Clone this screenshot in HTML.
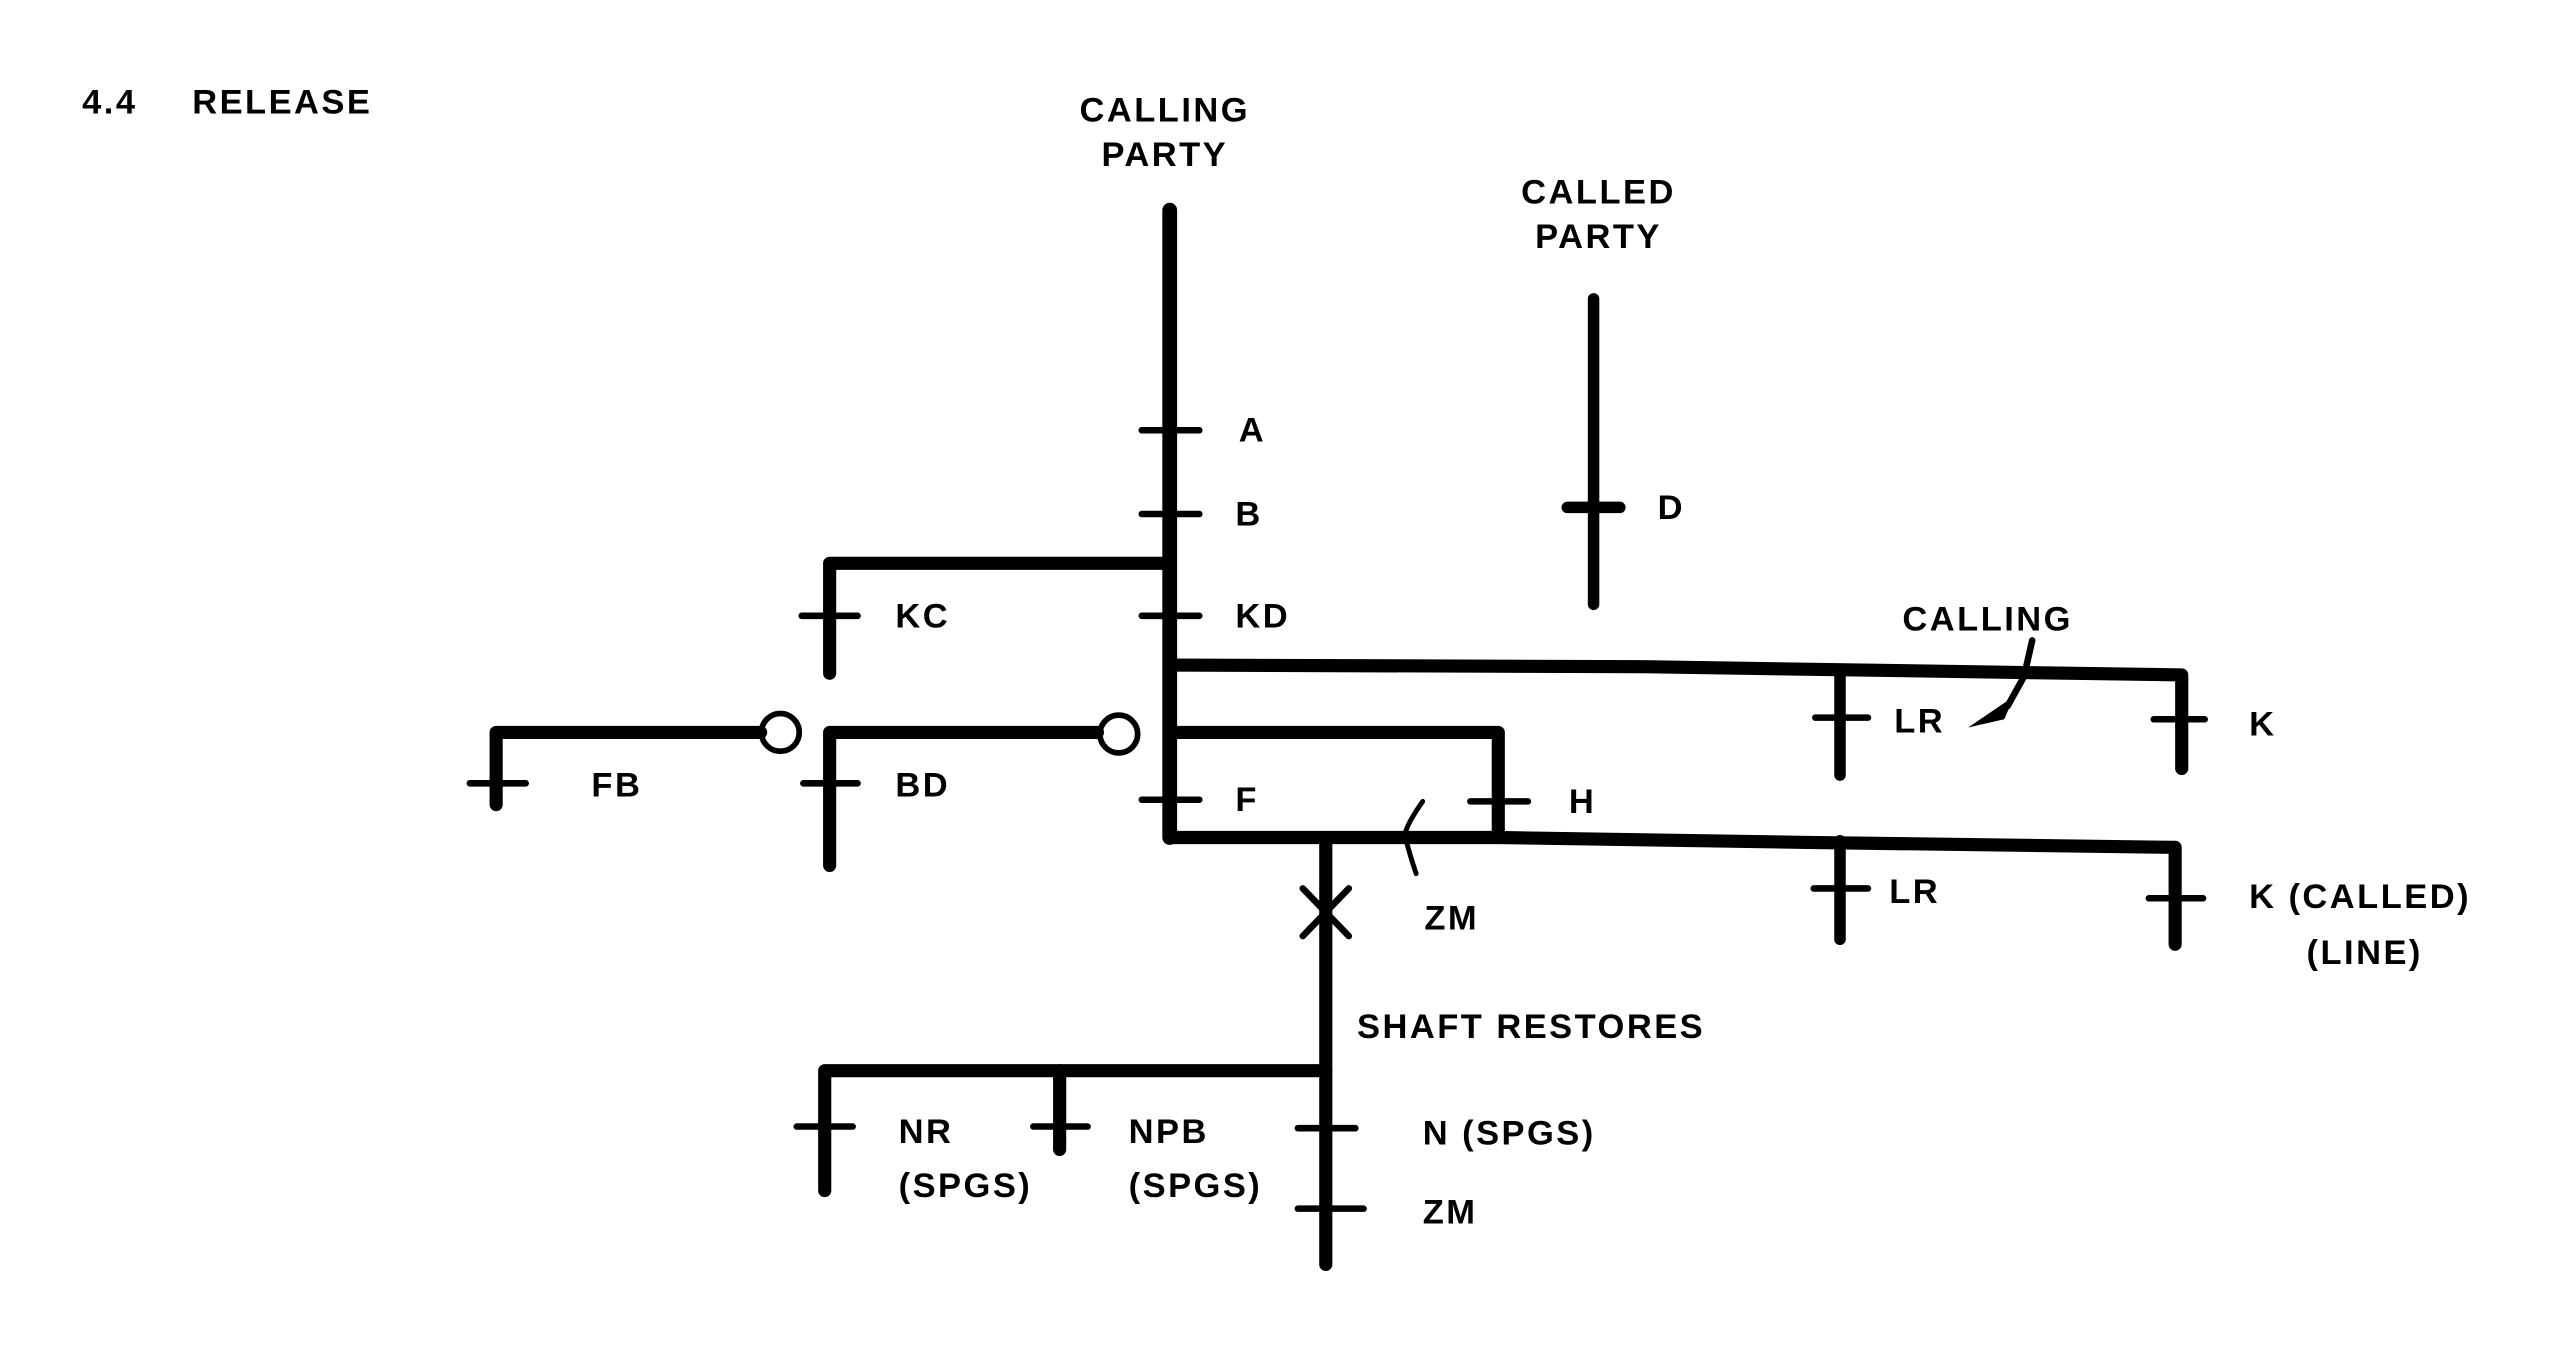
<!DOCTYPE html>
<html><head><meta charset="utf-8"><style>
html,body{margin:0;padding:0;background:#fff;}
svg{display:block;}
text{font-family:"Liberation Sans",sans-serif;font-size:21px;font-weight:bold;letter-spacing:1.5px;fill:#000;}
</style></head><body>
<svg width="2576" height="1363" viewBox="0 0 1568 830" preserveAspectRatio="none" xmlns="http://www.w3.org/2000/svg">
<g stroke="#000" stroke-linecap="round" stroke-linejoin="round" fill="none">
<path d="M712 128 V510" stroke-width="9"/>
<path d="M695 262 H730 M695 313 H730 M695 375 H730 M695 487 H730" stroke-width="4"/>
<path d="M712 343 H505 V410" stroke-width="8"/>
<path d="M488 375 H522" stroke-width="4"/>
<path d="M970 182 V368" stroke-width="7"/>
<path d="M954 309 H986" stroke-width="7"/>
<path d="M712 405 L1000 406 L1328 411 V468" stroke-width="8"/>
<path d="M1120 408 V472" stroke-width="7"/>
<path d="M1105 437 H1137 M1311 438 H1342" stroke-width="4"/>
<path d="M1237 390 L1232 412 L1222 430" stroke-width="4"/>
<path d="M463 446 H302 V490" stroke-width="8"/>
<path d="M286 477 H320" stroke-width="4"/>
<circle cx="475" cy="446" r="11.5" stroke-width="3.5"/>
<path d="M668 446 H505 V527" stroke-width="8"/>
<path d="M489 477 H522" stroke-width="4"/>
<circle cx="681" cy="447" r="11.5" stroke-width="3.5"/>
<path d="M712 446 H912 V510" stroke-width="8"/>
<path d="M895 488 H930" stroke-width="4"/>
<path d="M712 510 H912 L1100 513 L1324 516 V575" stroke-width="8"/>
<path d="M1120 512 V572" stroke-width="7"/>
<path d="M1104 541 H1137 M1308 547 H1341" stroke-width="4"/>
<path d="M866 488 Q852 508 856 512 Q858 520 862 532" stroke-width="3"/>
<path d="M807 512 V770" stroke-width="8"/>
<path d="M793 541 L821 570 M821 541 L793 570" stroke-width="4"/>
<path d="M807 652 H502 V725" stroke-width="8"/>
<path d="M645 652 V700" stroke-width="8"/>
<path d="M485 686 H519 M629 686 H662 M790 687 H825 M790 736 H830" stroke-width="4"/>
</g>
<polygon points="1198,443 1226,424 1220,438" fill="#000"/>
<text x="50" y="69">4.4</text>
<text x="117" y="69">RELEASE</text>
<text x="709" y="74" text-anchor="middle">CALLING</text>
<text x="709" y="101" text-anchor="middle">PARTY</text>
<text x="973" y="124" text-anchor="middle">CALLED</text>
<text x="973" y="151" text-anchor="middle">PARTY</text>
<text x="754" y="269">A</text>
<text x="752" y="320">B</text>
<text x="752" y="382">KD</text>
<text x="545" y="382">KC</text>
<text x="1009" y="316">D</text>
<text x="1158" y="384">CALLING</text>
<text x="1153" y="446">LR</text>
<text x="1369" y="448">K</text>
<text x="360" y="485">FB</text>
<text x="545" y="485">BD</text>
<text x="752" y="494">F</text>
<text x="955" y="495">H</text>
<text x="1150" y="550">LR</text>
<text x="1369" y="553">K (CALLED)</text>
<text x="1404" y="587">(LINE)</text>
<text x="867" y="566">ZM</text>
<text x="826" y="632">SHAFT RESTORES</text>
<text x="547" y="696">NR</text>
<text x="547" y="729">(SPGS)</text>
<text x="687" y="696">NPB</text>
<text x="687" y="729">(SPGS)</text>
<text x="866" y="697">N (SPGS)</text>
<text x="866" y="745">ZM</text>
</svg>
</body></html>
